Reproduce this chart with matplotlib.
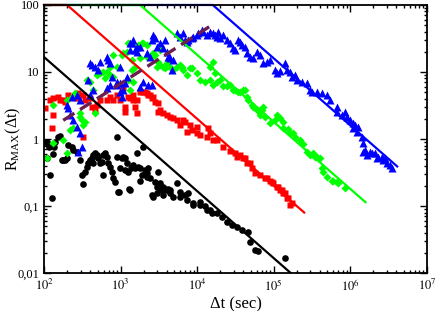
import matplotlib
matplotlib.use("Agg")
import matplotlib.pyplot as plt
from matplotlib.ticker import FixedLocator, FixedFormatter, LogLocator, NullFormatter

# datos (dt en segundos, R_MAX)
black_t = [103, 109, 116, 135, 139, 152, 162, 131, 120, 127,
           177, 188, 206, 232, 239, 270, 295, 313, 323, 343,
           364, 375, 399, 423, 436, 463, 492, 507, 538, 571,
           589, 625, 664, 685, 728, 773, 796, 845, 898, 898,
           953, 982, 1040, 1070, 1140, 1210, 1250, 1290, 1370, 1450,
           1540, 1640, 1690, 1790, 1900, 1960, 2080, 2210, 2280, 2420,
           2570, 2650, 2810, 2990, 3080, 3270, 3470, 3570, 3800, 4030,
           4160, 109, 172, 200, 436, 589, 925, 1140, 1330, 1790,
           2210, 3270, 3570, 4410, 4830, 5450, 5960, 6930, 7590, 8810,
           10900, 12600, 14700, 18100, 2990, 4410, 5960, 7360, 8810, 10900,
           13400, 15600, 21100, 24500, 28400, 33100, 38500, 46000, 48900, 56900,
           62200, 140000]
black_r = [0.87, 0.90, 0.76, 0.76, 0.90, 1.07, 1.12, 0.60, 0.29, 0.13,
           0.49, 0.49, 0.81, 0.76, 0.69, 0.64, 0.49, 0.29, 0.21, 0.32,
           0.38, 0.44, 0.49, 0.52, 0.58, 0.62, 0.58, 0.52, 0.44, 0.45,
           0.58, 0.62, 0.54, 0.44, 0.38, 0.32, 0.26, 0.23, 1.07, 0.54,
           0.16, 0.37, 0.52, 0.54, 0.52, 0.44, 0.32, 0.18, 0.37, 0.41,
           0.37, 0.62, 0.38, 0.37, 0.29, 0.76, 0.34, 0.27, 0.37, 0.26,
           0.146, 0.136, 0.23, 0.19, 0.32, 0.186, 0.173, 0.19, 0.18, 0.173,
           0.18, 0.52, 0.49, 0.52, 0.44, 0.29, 0.162, 0.34, 0.173, 0.24,
           0.31, 0.22, 0.146, 0.173, 0.136, 0.22, 0.162, 0.146, 0.156, 0.11,
           0.115, 0.10, 0.087, 0.079, 0.156, 0.156, 0.136, 0.123, 0.104, 0.104,
           0.087, 0.079, 0.069, 0.058, 0.052, 0.049, 0.044, 0.041, 0.029, 0.022,
           0.021, 0.017]

red_t = [103, 120, 131, 152, 162, 177, 188, 206, 127, 131,
         270, 278, 323, 343, 399, 423, 463, 492, 538, 323,
         664, 728, 796, 898, 982, 1070, 1140, 1140, 1250, 1330,
         1450, 1450, 1540, 1640, 1640, 1790, 1960, 2080, 2210, 2280,
         2420, 2570, 2650, 2810, 3080, 3080, 3270, 3570, 4030, 4410,
         4830, 5450, 5960, 6530, 6930, 7360, 8050, 8550, 9940, 9940,
         10900, 13400, 13800, 14700, 16100, 18100, 21700, 26800, 31100, 33100,
         36200, 39600, 42100, 44700, 48900, 51900, 56900, 66100, 76800, 81500,
         89100, 94800, 97700, 110000, 114000, 120000, 128000, 132000, 140000, 149000,
         153000, 163000, 173000]
red_r = [2.9, 3.82, 4.09, 4.24, 3.82, 3.82, 3.56, 4.54, 1.46, 2.28,
         4.09, 4.86, 4.54, 3.82, 4.09, 3.0, 2.71, 3.21, 3.82, 1.07,
         3.82, 4.24, 3.82, 4.54, 3.82, 5.77, 3.0, 2.53, 4.24, 4.09,
         4.54, 3.82, 3.0, 3.82, 2.44, 5.03, 5.03, 5.03, 4.86, 4.54,
         4.54, 4.09, 4.24, 3.56, 3.44, 2.53, 2.71, 2.44, 2.28, 2.13,
         2.06, 1.92, 1.62, 1.92, 1.79, 1.27, 1.62, 1.36, 1.51, 1.23,
         1.15, 1.07, 1.46, 1.23, 0.97, 0.97, 0.76, 0.66, 0.62, 0.54,
         0.58, 0.52, 0.52, 0.44, 0.44, 0.37, 0.31, 0.29, 0.26, 0.26,
         0.24, 0.23, 0.22, 0.19, 0.19, 0.173, 0.173, 0.156, 0.156, 0.13,
         0.13, 0.104, 0.111]

green_t = [109, 200, 131, 177, 218, 239, 295, 323, 463, 295,
           131, 200, 232, 254, 313, 343, 364, 399, 436, 492,
           538, 589, 664, 728, 796, 625, 728, 898, 796, 1040,
           1070, 1210, 1250, 1250, 1330, 1410, 1410, 1450, 1540, 1640,
           1690, 1790, 1900, 1960, 2210, 2210, 2570, 2650, 2810, 2990,
           3080, 3270, 3270, 3570, 3800, 4030, 4160, 4410, 4830, 5450,
           5960, 6340, 6530, 7360, 8050, 8550, 9940, 10900, 12600, 14700,
           16100, 16100, 14700, 17100, 18100, 19800, 21700, 24500, 26800, 29300,
           31100, 34100, 36200, 39600, 42100, 44700, 46000, 51900, 53500, 60400,
           62200, 66100, 70200, 72300, 76800, 89100, 104000, 110000, 120000, 132000,
           132000, 153000, 163000, 178000, 189000, 220000, 240000, 271000, 297000, 325000,
           345000, 366000, 401000, 426000, 439000, 495000, 575000, 593000, 668000, 689000,
           851000]
green_r = [0.52, 0.62, 0.87, 0.97, 1.36, 1.46, 2.13, 1.62, 2.44, 2.44,
           3.21, 3.82, 4.24, 4.86, 1.92, 1.79, 7.6, 7.09, 5.38, 9.02,
           9.66, 10.0, 10.0, 9.02, 8.42, 8.14, 11.9, 11.9, 17.9, 17.9,
           19.2, 19.9, 27.1, 7.6, 5.38, 15.1, 10.7, 7.09, 11.9, 23.6,
           25.3, 16.2, 27.1, 27.1, 25.3, 16.7, 16.7, 19.2, 17.9, 11.9,
           14.1, 21.3, 12.7, 11.9, 11.5, 13.6, 14.1, 11.9, 10.7, 11.9,
           12.7, 11.9, 10.7, 9.02, 11.5, 11.5, 9.66, 7.6, 7.09, 7.6,
           6.4, 14.1, 11.9, 9.66, 7.09, 7.6, 6.17, 6.17, 6.4, 5.38,
           5.38, 5.03, 5.03, 5.38, 5.38, 4.24, 3.82, 3.21, 3.0, 2.71,
           2.71, 2.28, 2.71, 3.0, 2.13, 1.73, 1.92, 2.28, 2.06, 1.79,
           1.46, 1.41, 1.23, 1.23, 1.07, 0.97, 0.84, 0.64, 0.58, 0.62,
           0.54, 0.54, 0.52, 0.37, 0.32, 0.27, 0.24, 0.24, 0.23, 0.22,
           0.186]

blue_t = [200, 206, 218, 232, 239, 270, 270, 278, 295, 295,
          313, 375, 399, 399, 423, 436, 463, 507, 538, 664,
          664, 685, 728, 728, 773, 898, 898, 982, 982, 982,
          1040, 1070, 1140, 1210, 1330, 1330, 1410, 1450, 1540, 1640,
          1640, 1790, 1790, 1960, 2210, 2280, 2420, 2570, 2570, 2650,
          2810, 2990, 3270, 3570, 3800, 4030, 4160, 4410, 4690, 4830,
          5450, 5960, 6530, 6930, 7360, 7590, 8550, 8810, 9940, 10200,
          11600, 11900, 13400, 14700, 16100, 17100, 18100, 18700, 19800, 21700,
          24500, 26800, 29300, 31100, 34100, 36200, 38500, 42100, 44700, 48900,
          53500, 60400, 66100, 72300, 81500, 89100, 104000, 110000, 120000, 140000,
          149000, 163000, 173000, 189000, 201000, 233000, 271000, 297000, 316000, 366000,
          426000, 495000, 542000, 668000, 668000, 776000, 851000, 904000, 988000, 1.08e6,
          1.08e6, 1.15e6, 1.22e6, 1.26e6, 1.42e6, 1.46e6, 1.46e6, 1.55e6, 1.65e6, 1.80e6,
          1.92e6, 2.09e6, 2.22e6, 2.29e6, 2.59e6, 2.67e6, 2.83e6, 3.01e6, 3.29e6, 3.49e6]
blue_r = [3.21, 2.90, 2.28, 4.24, 1.92, 1.51, 4.54, 0.64, 1.23, 3.82,
          0.76, 7.6, 13.6, 4.54, 12.7, 5.38, 11.9, 10.7, 14.1, 16.7,
          5.77, 15.1, 13.6, 6.4, 8.42, 7.09, 6.4, 6.85, 11.9, 5.03,
          4.24, 5.38, 6.85, 8.42, 21.3, 27.1, 27.1, 30.0, 21.3, 19.9,
          23.6, 23.6, 5.97, 7.09, 19.2, 6.4, 16.7, 6.4, 30.0, 35.6,
          32.2, 23.6, 27.1, 22.8, 30.0, 19.9, 16.7, 16.2, 10.7, 15.1,
          38.2, 33.3, 38.2, 30.0, 28.0, 30.0, 32.2, 33.3, 35.6, 38.2,
          42.4, 39.5, 35.6, 39.5, 38.2, 35.6, 33.3, 39.5, 32.2, 35.6,
          30.0, 27.1, 22.8, 21.3, 30.0, 28.0, 25.3, 23.6, 19.2, 16.7,
          16.2, 19.9, 17.9, 13.6, 14.1, 15.1, 10.7, 9.66, 10.4, 13.6,
          10.7, 10.0, 8.42, 9.02, 7.6, 7.09, 6.85, 5.38, 5.03, 5.03,
          4.86, 4.54, 3.82, 3.0, 2.53, 2.28, 2.53, 2.13, 1.92, 1.73,
          1.46, 1.62, 1.27, 1.51, 1.07, 0.87, 0.64, 0.69, 0.58, 0.64,
          0.62, 0.62, 0.52, 0.54, 0.54, 0.49, 0.52, 0.44, 0.41, 0.37]

# rectas de pendiente -1 (con meseta en 100)
black_line_t = [1e2, 1.67e5]
black_line_r = [16.7, 0.01]
red_line_t = [1e2, 200, 2.5e5]
red_line_r = [100, 100, 0.08]
green_line_t = [1e2, 1800, 1.58e6]
green_line_r = [100, 100, 0.114]
blue_line_t = [1e2, 1.6e4, 4.1e6]
blue_line_r = [100, 100, 0.39]
dash_t = [178, 1.55e4]
dash_r = [1.9, 50]

ytick_vals = [0.01, 0.1, 1, 10, 100]
ytick_labels = ["0,01", "0,1", "1", "10", "100"]
xtick_vals = [1e2, 1e3, 1e4, 1e5, 1e6, 1e7]
xtick_labels = ["$10^{2}$", "$10^{3}$", "$10^{4}$", "$10^{5}$", "$10^{6}$", "$10^{7}$"]

plt.rcParams["font.family"] = ["Liberation Serif", "DejaVu Serif"]
plt.rcParams["mathtext.fontset"] = "stix"

fig = plt.figure(figsize=(4.36, 3.11), dpi=100)
ax = fig.add_axes([0.101, 0.122, 0.878, 0.862])

ax.plot(black_t, black_r, "o", color="black", ms=4.8, mec="none")
ax.plot(red_t, red_r, "s", color="#ff0000", ms=4.3, mec="none")
ax.plot(green_t, green_r, "D", color="#00ff00", ms=3.7, mec="none")
ax.plot(blue_t, blue_r, "^", color="#0000ff", ms=5.4, mec="none")

ax.plot(blue_line_t, blue_line_r, "-", color="#0000ff", lw=1.6, clip_on=False)
ax.plot(green_line_t, green_line_r, "-", color="#00ff00", lw=1.6, clip_on=False)
ax.plot(red_line_t, red_line_r, "-", color="#ff0000", lw=1.6, clip_on=False)
ax.plot(black_line_t, black_line_r, "-", color="black", lw=1.6)
ax.plot(dash_t, dash_r, color="#6b1f4f", lw=2.4, dashes=(4, 2))

ax.set_xscale("log")
ax.set_yscale("log")
ax.set_xlim(1e2, 1e7)
ax.set_ylim(0.01, 100)

ax.yaxis.set_major_locator(FixedLocator(ytick_vals))
ax.yaxis.set_major_formatter(FixedFormatter(ytick_labels))
ax.xaxis.set_major_locator(FixedLocator(xtick_vals))
ax.xaxis.set_major_formatter(FixedFormatter(xtick_labels))
ax.xaxis.set_minor_locator(LogLocator(base=10, subs=range(2, 10), numticks=20))
ax.yaxis.set_minor_locator(LogLocator(base=10, subs=range(2, 10), numticks=20))
ax.xaxis.set_minor_formatter(NullFormatter())
ax.yaxis.set_minor_formatter(NullFormatter())

ax.tick_params(which="both", direction="in", top=True, right=True, labelsize=9, width=1)
ax.tick_params(which="major", length=5)
ax.tick_params(which="minor", length=2.5)
for s in ax.spines.values():
    s.set_linewidth(1.3)

ax.set_xlabel("Δt (sec)", fontsize=12, labelpad=2)
ax.set_ylabel(r"R$_{\mathregular{MAX}}$(Δt)", fontsize=11.5)
ax.yaxis.set_label_coords(-0.055, 0.5)

fig.savefig("out.png", dpi=100)
